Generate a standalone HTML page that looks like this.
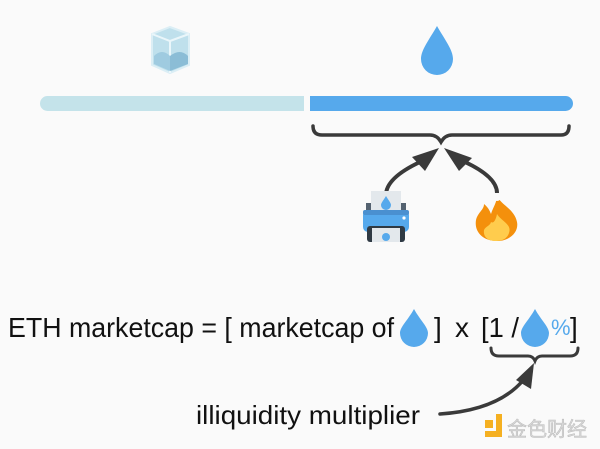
<!DOCTYPE html>
<html><head><meta charset="utf-8"><style>
html,body{margin:0;padding:0;background:#fafafa;}
svg{display:block}
text{font-family:"Liberation Sans","Noto Sans CJK SC",sans-serif;}
</style></head><body>
<svg width="600" height="449" viewBox="0 0 600 449" xmlns="http://www.w3.org/2000/svg">
<rect width="600" height="449" fill="#fafafa"/>
<g>
<path d="M152,34 L170,27 L189,34 L189,65 L170,73 L152,65 Z" fill="#bfe0ec" stroke="#dbeef5" stroke-width="2"/>
<path d="M152,34 L170,41 L189,34" fill="none" stroke="#eaf6fa" stroke-width="2"/>
<path d="M170,41 L170,73" stroke="#eaf6fa" stroke-width="2"/>
<path d="M154,56 Q162,48 170,56 L170,71 L154,64Z" fill="#9fcbe0"/>
<path d="M170,56 Q180,48 188,56 L188,64 L170,71Z" fill="#8bbdd6"/>
</g>
<path d="M437,26 C429,40 421,50 421,59 A16,16 0 0 0 453,59 C453,50 445,40 437,26Z" fill="#56a9ec"/>
<path d="M47.5,96 L304,96 L304,111 L47.5,111 A7.5,7.5 0 0 1 47.5,96Z" fill="#c4e3ea"/>
<path d="M310,96 L565.5,96 A7.5,7.5 0 0 1 565.5,111 L310,111Z" fill="#56a9ec"/>
<path d="M313,126 Q313,135 322,135 L430,135 Q437,135 441,142 Q445,135 452,135 L561,135 Q569,135 569,126" fill="none" stroke="#3a3a3a" stroke-width="3.5" stroke-linecap="round"/>
<path d="M386,195 Q386,178 420,162" fill="none" stroke="#3a3a3a" stroke-width="4"/>
<path d="M439,148 L425,171 L412,157 Z" fill="#3a3a3a"/>
<path d="M497,193 Q497,177 465,162" fill="none" stroke="#3a3a3a" stroke-width="4"/>
<path d="M444,148 L472,158 L459,171 Z" fill="#3a3a3a"/>
<g>
<rect x="371" y="191" width="30" height="24" fill="#e3e8ec"/>
<path d="M386,196 C383,201 381,203 381,205 A5,5 0 0 0 391,205 C391,203 389,201 386,196Z" fill="#56a9ec"/>
<rect x="366" y="203" width="5" height="8" fill="#546270"/>
<rect x="401" y="203" width="5" height="8" fill="#546270"/>
<rect x="363" y="210" width="46" height="22" rx="5" fill="#56a9ec"/>
<rect x="363" y="210" width="46" height="5" rx="2" fill="#4a90d0"/>
<circle cx="404" cy="218" r="1.6" fill="#fff"/>
<rect x="367" y="226" width="38" height="16" rx="3" fill="#2f3a44"/>
<rect x="372" y="228" width="28" height="14" fill="#e3e8ec"/>
<circle cx="386" cy="237" r="4" fill="#56a9ec"/>
</g>
<g>
<path d="M497,195 C500,205 514,208 517,222 C519,232 510,241 497,241 C483,241 474,232 476,220 C478,212 484,210 484,204 C489,208 490,212 491,214 C493,207 497,203 497,195Z" fill="#f4900c"/>
<path d="M497,214 C502,222 512,224 509,233 C507,239 502,241 496,241 C488,241 483,237 484,230 C486,226 490,226 491,222 C494,224 496,219 497,214Z" fill="#ffcc4d"/>
<circle cx="497" cy="197" r="4" fill="#fafafa"/>
</g>
<text x="8" y="337" font-size="28" fill="#111" textLength="386" lengthAdjust="spacingAndGlyphs">ETH marketcap = [ marketcap of</text>
<path d="M414,309 C408,320 400,327 400,333 A14,14 0 0 0 428,333 C428,327 420,320 414,309Z" fill="#56a9ec"/>
<text x="434" y="337" font-size="28" fill="#111">]</text>
<text x="455" y="337" font-size="28" fill="#111">x</text>
<text x="481" y="337" font-size="28" fill="#111" textLength="38" lengthAdjust="spacingAndGlyphs">[1 /</text>
<path d="M535,309 C529,320 521,327 521,333 A14,14 0 0 0 549,333 C549,327 541,320 535,309Z" fill="#56a9ec"/>
<text x="551" y="335" font-size="22" fill="#56a9ec">%</text>
<text x="570" y="337" font-size="28" fill="#111">]</text>
<path d="M491,348 Q491,356 499,356 L528,356 Q533,356 535,361 Q537,356 542,356 L570,356 Q578,356 578,348" fill="none" stroke="#3a3a3a" stroke-width="3" stroke-linecap="round"/>
<path d="M440,414 Q500,410 525,378" fill="none" stroke="#3a3a3a" stroke-width="3.5" stroke-linecap="round"/>
<path d="M534,363 L516,380 L531,389 Z" fill="#3a3a3a"/>
<text x="196" y="424" font-size="26" fill="#111" textLength="224" lengthAdjust="spacingAndGlyphs">illiquidity multiplier</text>
<rect x="485" y="420" width="8" height="8" fill="#f5b021"/>
<path d="M496,414 L502,414 L502,437 L485,437 L485,431 L496,431 Z" fill="#f5b021"/>
<text x="507" y="436" font-size="20" fill="#d8d8d8" stroke="#bbb" stroke-width="0.5">金色财经</text>
</svg>
</body></html>
